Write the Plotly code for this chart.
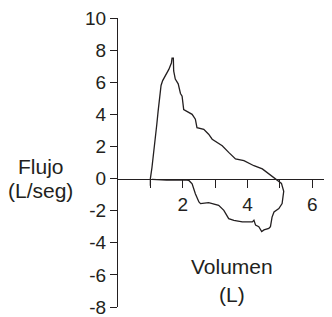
import plotly.graph_objects as go

# Flow-volume loop: volume (L) and flow (L/seg)
volumen = [1.00, 1.00, 1.05, 1.10, 1.13, 1.17, 1.20, 1.24, 1.27, 1.33, 1.38, 1.46, 1.57, 1.65, 1.67,
           1.71, 1.72, 1.77, 1.86, 1.93, 1.98, 2.03, 2.29, 2.39, 2.44, 2.65, 2.80, 2.91, 3.22, 3.42,
           3.63, 3.89, 4.20, 4.46, 4.66, 4.87, 5.05, 5.12, 5.10, 5.07, 4.97, 4.82, 4.76, 4.71, 4.66,
           4.51, 4.44, 4.35, 4.25, 4.20, 4.15, 3.84, 3.58, 3.42, 3.27, 3.11, 2.80, 2.55, 2.50, 2.39,
           2.29, 2.19, 2.05, 1.50, 1.05]
flujo = [-0.45, 0.00, 0.70, 1.50, 2.10, 2.80, 3.40, 4.20, 4.90, 5.80, 6.10, 6.40, 6.80, 7.20, 7.50,
         7.50, 6.70, 6.20, 5.90, 5.30, 5.13, 4.30, 4.00, 3.70, 3.17, 3.07, 2.76, 2.45, 2.04, 1.63,
         1.22, 1.11, 0.80, 0.60, 0.29, -0.02, -0.30, -0.80, -1.05, -1.56, -1.87, -2.08, -2.40, -3.00, -3.10,
         -3.20, -3.30, -3.00, -2.90, -2.60, -2.70, -2.70, -2.60, -2.50, -1.98, -1.67, -1.50, -1.56, -1.46, -0.95,
         -0.33, -0.12, -0.08, -0.10, -0.05]

y_ticks = [-8, -6, -4, -2, 0, 2, 4, 6, 8, 10]
y_ticktext = ["-8", "-6", "-4", "-2", "0", "2", "4", "6", "8", "10"]
x_ticks = [1, 2, 3, 4, 5, 6]
x_ticktext = ["", "2", "", "4", "", "6"]

ink = "#231f20"
font_family = "Liberation Sans, Arial, sans-serif"

fig = go.Figure()
fig.add_trace(go.Scatter(x=volumen, y=flujo, mode="lines",
                         line=dict(color=ink, width=1.3), hoverinfo="skip", showlegend=False))

# page body has an 8px default margin
OFF = 8
W, H = 332 - OFF, 317 - OFF
ml, mr, mt, mb = 118 - OFF, 2, 18 - OFF, 10
pw, ph = W - ml - mr, H - mt - mb

def px_to_paper(px, py):
    return (px - OFF - ml) / pw, 1 - (py - OFF - mt) / ph

fig.update_layout(
    width=W, height=H,
    margin=dict(l=ml, r=mr, t=mt, b=mb, pad=0, autoexpand=False),
    paper_bgcolor="white", plot_bgcolor="white",
    font=dict(family=font_family, color=ink, size=19),
    xaxis=dict(range=[0, 6.55], anchor="free", position=8 / 18, automargin=False,
               showline=True, linecolor=ink, linewidth=1.3,
               ticks="outside", ticklen=8, tickwidth=1.3, tickcolor=ink,
               tickvals=x_ticks, ticktext=x_ticktext, ticklabeloverflow="allow",
               showgrid=False, zeroline=False, tickfont=dict(size=19)),
    yaxis=dict(range=[-8, 10], automargin=False, showline=True, linecolor=ink, linewidth=1.3,
               ticks="outside", ticklen=7, tickwidth=1.3, tickcolor=ink,
               tickvals=y_ticks, ticktext=y_ticktext, ticklabeloverflow="allow",
               showgrid=False, zeroline=False, tickfont=dict(size=19)),
)

labels = [("Flujo", 41, 166), ("(L/seg)", 40, 190), ("Volumen", 232, 266), ("(L)", 232, 294)]
for text, px, py in labels:
    xp, yp = px_to_paper(px, py)
    fig.add_annotation(text=text, x=xp, y=yp, xref="paper", yref="paper",
                       xanchor="center", yanchor="middle", showarrow=False,
                       font=dict(size=21, family=font_family, color=ink))

fig.write_html("out.html")
